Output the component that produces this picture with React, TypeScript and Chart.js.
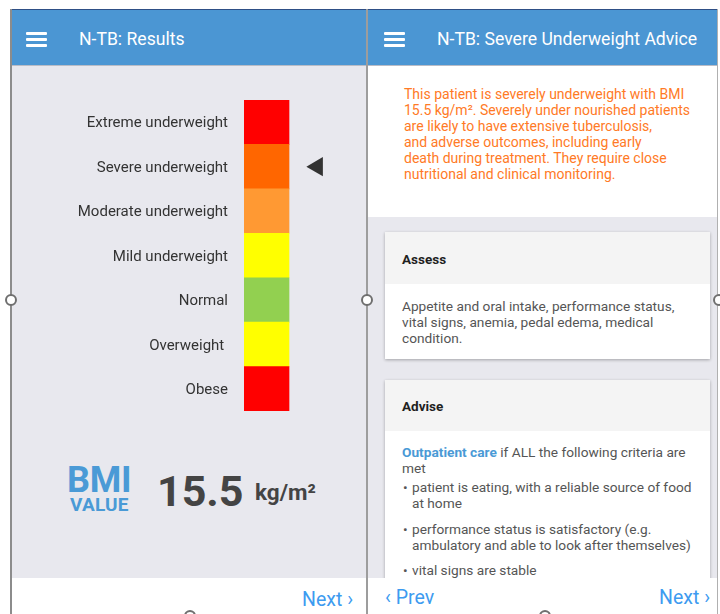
import React, { useEffect, useRef } from "react";
import { Chart, registerables } from "chart.js";

Chart.register(...registerables);

// ---- data ----
const categories = [
  "Extreme underweight",
  "Severe underweight",
  "Moderate underweight",
  "Mild underweight",
  "Normal",
  "Overweight ",
  "Obese",
];
const segmentValues = [1, 1, 1, 1, 1, 1, 1];
const segmentColors = ["#ff0000", "#ff6600", "#ff9933", "#ffff00", "#92d050", "#ffff00", "#ff0000"];
const markerCategory = "Severe underweight";
const markerValue = 1.63;
const axisMax = 2;
const bmiValue = "15.5";
const bmiUnit = "kg/m²";

const adviceLines = [
  "This patient is severely underweight with BMI",
  "15.5 kg/m². Severely under nourished patients",
  "are likely to have extensive tuberculosis,",
  "and adverse outcomes, including early",
  "death during treatment. They require close",
  "nutritional and clinical monitoring.",
];
const assessLines = [
  "Appetite and oral intake, performance status,",
  "vital signs, anemia, pedal edema, medical",
  "condition.",
];

const FONT = "Roboto, 'Noto Sans', sans-serif";
const BLUE_HDR = "#4b96d3";
const GRAY_BG = "#e8e8ee";
const LINK = "#3d9bf0";
const BODY = 13.7;

type TP = {
  x?: number;
  right?: number;
  base: number;
  size: number;
  lh?: number;
  color?: string;
  weight?: number;
  style?: React.CSSProperties;
  children?: React.ReactNode;
};

function T({ x, right, base, size, lh, color = "#333", weight = 400, style, children }: TP) {
  const L = lh ?? Math.round(size * 1.2);
  const top = base - (L - 1.172 * size) / 2 - 0.928 * size;
  const pos: React.CSSProperties = right !== undefined ? { right: 720 - right, textAlign: "right" } : { left: x };
  return (
    <div
      style={{
        position: "absolute",
        top,
        ...pos,
        fontSize: size,
        lineHeight: L + "px",
        color,
        fontWeight: weight,
        whiteSpace: "nowrap",
        fontFamily: FONT,
        zIndex: 3,
        ...style,
      }}
    >
      {children}
    </div>
  );
}

function Box({ l, t, w, h, bg, style }: { l: number; t: number; w: number; h: number; bg: string; style?: React.CSSProperties }) {
  return <div style={{ position: "absolute", left: l, top: t, width: w, height: h, background: bg, ...style }} />;
}

function Burger({ x }: { x: number }) {
  return (
    <>
      {[32, 38, 44].map((y) => (
        <Box key={y} l={x} t={y} w={21} h={2.6} bg="#ffffff" style={{ zIndex: 3, borderRadius: 1 }} />
      ))}
    </>
  );
}

function Handle({ cx, cy }: { cx: number; cy: number }) {
  return (
    <div
      style={{
        position: "absolute",
        left: cx - 6,
        top: cy - 6,
        width: 8,
        height: 8,
        borderRadius: "50%",
        border: "2px solid #6f6f6f",
        background: "#ffffff",
        zIndex: 6,
      }}
    />
  );
}

function BmiChart() {
  const ref = useRef<HTMLCanvasElement | null>(null);
  useEffect(() => {
    if (!ref.current) return;
    const chart = new Chart(ref.current, {
      type: "bar",
      data: {
        labels: categories,
        datasets: [
          {
            type: "bar",
            data: segmentValues,
            backgroundColor: segmentColors,
            borderWidth: 0,
            barPercentage: 1,
            categoryPercentage: 1,
          } as any,
          {
            type: "scatter",
            data: [{ x: markerValue, y: markerCategory }],
            pointStyle: "triangle",
            rotation: -90,
            radius: 11,
            backgroundColor: "#333333",
            borderColor: "#333333",
            borderWidth: 0,
          } as any,
        ],
      },
      options: {
        indexAxis: "y",
        responsive: false,
        animation: false,
        devicePixelRatio: 1,
        layout: { padding: { top: 34, bottom: 29, right: 32, left: 0 } },
        plugins: { legend: { display: false }, tooltip: { enabled: false } },
        events: [],
        scales: {
          x: { type: "linear", min: 0, max: axisMax, display: false },
          y: {
            type: "category",
            labels: categories,
            offset: true,
            grid: { display: false, drawTicks: false },
            border: { display: false },
            ticks: {
              padding: 16,
              labelOffset: 1.5,
              color: "#333333",
              font: { family: "Roboto", size: 15 },
            },
            afterFit: (axis: any) => {
              axis.width = 233;
            },
          },
        },
      } as any,
    });
    return () => chart.destroy();
  }, []);
  return (
    <canvas
      ref={ref}
      width={355}
      height={374}
      style={{ position: "absolute", left: 11, top: 66, width: 355, height: 374, zIndex: 2 }}
    />
  );
}

export default function App() {
  return (
    <div
      style={{
        position: "fixed",
        left: 0,
        top: 0,
        width: 720,
        height: 614,
        background: "#ffffff",
        overflow: "hidden",
        fontFamily: FONT,
      }}
    >
      {/* ===== Left screen ===== */}
      <Box l={11} t={9} w={355} h={56} bg={BLUE_HDR} style={{ borderTop: "1px solid #2e4f86", boxSizing: "border-box" }} />
      <Box l={11} t={65} w={355} h={1} bg="#b9bcc6" />
      <Box l={11} t={66} w={355} h={512} bg={GRAY_BG} />
      <Box l={11} t={578} w={355} h={36} bg="#ffffff" />
      <Box l={10} t={9} w={1.5} h={605} bg="#8c8c8c" style={{ zIndex: 4 }} />
      <Box l={366} t={9} w={2} h={605} bg="#9d9d9d" style={{ zIndex: 4 }} />
      <Burger x={26} />
      <T x={79} base={46} size={17.6} weight={400} color="#ffffff">
        N-TB: Results
      </T>
      <BmiChart />
      <T x={67} base={493} size={36} weight={700} color="#4a9ad6" style={{ letterSpacing: -0.3 }}>
        BMI
      </T>
      <T x={70} base={511} size={19} weight={700} color="#4a9ad6" style={{ letterSpacing: 0.2 }}>
        VALUE
      </T>
      <T x={157} base={506} size={43} weight={700} color="#444444">
        {bmiValue}
      </T>
      <T x={255} base={500} size={22.5} weight={700} color="#444444">
        {bmiUnit}
      </T>
      <T right={353} base={606} size={19.5} color={LINK}>
        Next ›
      </T>

      {/* ===== Right screen ===== */}
      <Box l={368} t={9} w={349} h={56} bg={BLUE_HDR} style={{ borderTop: "1px solid #2e4f86", boxSizing: "border-box" }} />
      <Box l={368} t={65} w={349} h={1} bg="#b9bcc6" />
      <Box l={368} t={66} w={349} h={151} bg="#ffffff" />
      <Box l={368} t={217} w={349} h={361} bg={GRAY_BG} />
      <Box l={717} t={9} w={1} h={605} bg="#b0b0b0" style={{ zIndex: 4 }} />
      <Burger x={384} />
      <T x={437} base={46} size={17.6} weight={400} color="#ffffff">
        N-TB: Severe Underweight Advice
      </T>
      <T x={404} base={99} size={14} lh={16} color="#ff7a26">
        {adviceLines.map((l, i) => (
          <div key={i}>{l}</div>
        ))}
      </T>

      {/* Assess card */}
      <Box l={385} t={232} w={325} h={127} bg="#ffffff" style={{ boxShadow: "0 1px 3px rgba(0,0,0,0.3)", zIndex: 1 }} />
      <Box l={385} t={232} w={325} h={52} bg="#f4f4f4" style={{ zIndex: 1 }} />
      <T x={402} base={264} size={13.5} weight={700} color="#1f1f1f">
        Assess
      </T>
      <T x={402} base={311} size={BODY} lh={16} color="#555555">
        {assessLines.map((l, i) => (
          <div key={i}>{l}</div>
        ))}
      </T>

      {/* Advise card */}
      <Box l={385} t={380} w={325} h={210} bg="#ffffff" style={{ boxShadow: "0 1px 3px rgba(0,0,0,0.3)", zIndex: 1 }} />
      <Box l={385} t={380} w={325} h={51} bg="#f4f4f4" style={{ zIndex: 1 }} />
      <T x={402} base={411} size={13.5} weight={700} color="#1f1f1f">
        Advise
      </T>
      <T x={402} base={457} size={BODY} lh={16} color="#555555">
        <span style={{ color: "#4a9ad6", fontWeight: 700 }}>Outpatient care</span> if ALL the following criteria are
        <br />
        met
      </T>
      <T x={403} base={492} size={BODY} color="#555555">•</T>
      <T x={412} base={492} size={BODY} lh={16} color="#555555">
        patient is eating, with a reliable source of food
        <br />
        at home
      </T>
      <T x={403} base={534} size={BODY} color="#555555">•</T>
      <T x={412} base={534} size={BODY} lh={16} color="#555555">
        performance status is satisfactory (e.g.
        <br />
        ambulatory and able to look after themselves)
      </T>
      <T x={403} base={575} size={BODY} color="#555555">•</T>
      <T x={412} base={575} size={BODY} color="#555555">
        vital signs are stable
      </T>

      {/* bottom bar right */}
      <Box l={368} t={578} w={349} h={36} bg="#ffffff" style={{ zIndex: 4 }} />
      <T x={385} base={604} size={19.5} color={LINK} style={{ zIndex: 5 }}>
        ‹ Prev
      </T>
      <T right={710} base={604} size={19.5} color={LINK} style={{ zIndex: 5 }}>
        Next ›
      </T>

      {/* resize handles */}
      <Handle cx={11} cy={300} />
      <Handle cx={367} cy={300} />
      <Handle cx={719} cy={300} />
      <Handle cx={190} cy={616} />
      <Handle cx={545} cy={616} />
    </div>
  );
}
